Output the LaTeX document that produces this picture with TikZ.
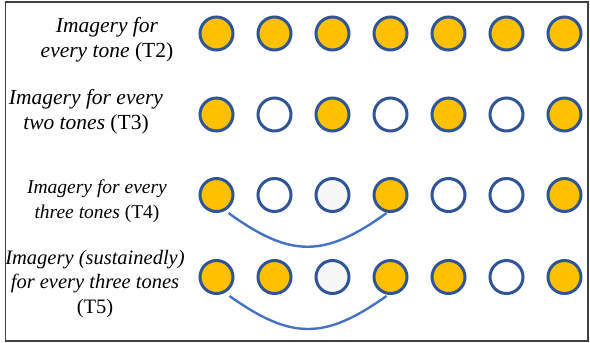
\documentclass[tikz,border=0pt]{standalone}
\usepackage{fontspec}
\setmainfont{Liberation Serif}
\usetikzlibrary{calc}
\definecolor{ringblue}{HTML}{2F5597}
\definecolor{toneorange}{HTML}{FFC000}
\definecolor{restgray}{HTML}{F6F6F4}
\definecolor{linkblue}{HTML}{4472C4}
\definecolor{framegray}{HTML}{404040}
\tikzset{
  tone/.style={circle, draw=ringblue, line width=3pt, minimum size=33pt, inner sep=0pt},
  on/.style={tone, fill=toneorange},
  off/.style={tone, fill=white},
  rest/.style={tone, fill=restgray},
  link/.style={draw=linkblue, line width=2.4pt},
  caption/.style={align=center, inner sep=0pt},
}
\begin{document}
\begin{tikzpicture}[x=1pt,y=-1pt]
\useasboundingbox (0,0) rectangle (590,343);
\draw[framegray, line width=1.3pt] (5.5,2) rectangle (588,341);

% row captions
\node[caption, font=\fontsize{21.5}{25}\selectfont] (t2) at (107,40)
  {\itshape Imagery for\\ \itshape every tone \upshape(T2)};
\node[caption, font=\fontsize{21.5}{25}\selectfont] (t3) at (86,112)
  {\itshape Imagery for every\\ \itshape two tones \upshape(T3)};
\node[caption, font=\fontsize{19.5}{25}\selectfont] (t4) at (97,201.5)
  {\itshape Imagery for every\\ \itshape three tones \upshape(T4)};
\node[caption, font=\fontsize{20.5}{24.5}\selectfont] (t5) at (95,284)
  {\itshape Imagery (sustainedly)\\ \itshape for every three tones\\ \upshape(T5)};

% tone rows
\foreach \i/\s in {1/on,2/on,3/on,4/on,5/on,6/on,7/on}
  \node[\s] (a\i) at (216.5+58*\i-58,33.5) {};
\foreach \i/\s in {1/on,2/off,3/on,4/off,5/on,6/off,7/on}
  \node[\s] (b\i) at (216.5+58*\i-58,114.5) {};
\foreach \i/\s in {1/on,2/off,3/rest,4/on,5/off,6/off,7/on}
  \node[\s] (c\i) at (216.5+58*\i-58,195) {};
\foreach \i/\s in {1/on,2/on,3/rest,4/on,5/on,6/off,7/on}
  \node[\s] (d\i) at (216.5+58*\i-58,277) {};

% links between the first and fourth tones
\draw[link] ($(c1)+(12,18)$) .. controls +(62,45) and +(-62,45) .. ($(c4)+(-4,18)$);
\draw[link] ($(d1)+(13,19)$) .. controls +(62,44) and +(-62,44) .. ($(d4)+(-4,19)$);
\end{tikzpicture}
\end{document}
